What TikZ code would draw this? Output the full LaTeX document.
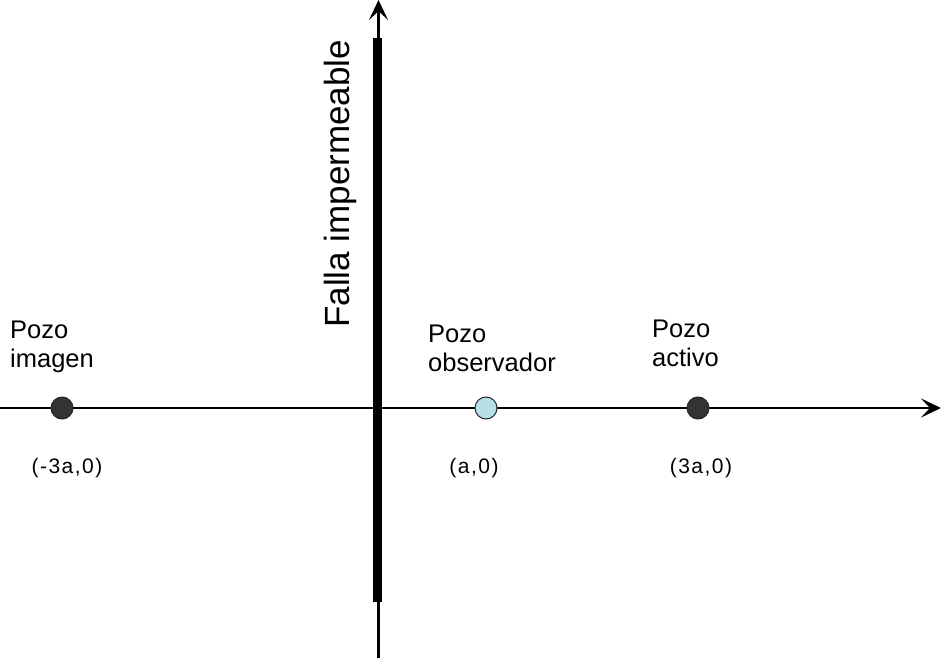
\documentclass[tikz,border=0pt]{standalone}
\usepackage{fontspec}
\setmainfont{Liberation Sans}
\usetikzlibrary{arrows.meta}
\begin{document}
\begin{tikzpicture}[x=1pt,y=-1pt,
  axisline/.style={line width=2.5pt,-{Stealth[length=20pt,width=19pt,inset=9pt]}},
  well/.style={circle,draw=black!85,line width=1pt,minimum size=22pt,inner sep=0pt},
  lbl/.style={font=\fontsize{25.5}{29}\selectfont,align=left,inner sep=0pt},
  coord/.style={font=\fontsize{21}{22}\selectfont\addfontfeatures{LetterSpace=7},inner sep=0pt}]
\useasboundingbox (0,0) rectangle (941,660);
% axes
\coordinate (xl) at (0,408);
\coordinate (xr) at (941,408);
\coordinate (yb) at (378.5,658);
\coordinate (yt) at (378.5,0);
\draw[axisline] (xl) -- (xr);
\draw[axisline] (yb) -- (yt);
% fault
\fill[black] (373,38) rectangle (382,602);
\node[rotate=90,anchor=base west,font=\fontsize{35}{36}\selectfont,inner sep=0pt] (falla) at (349,328) {Falla impermeable};
% wells
\node[well,fill=black!80] (imagen) at (62,408) {};
\node[well,fill={rgb,255:red,183;green,224;blue,230}] (obs) at (486,408) {};
\node[well,fill=black!80] (activo) at (698,408) {};
% labels
\node[lbl,anchor=base west] (limagen) at (10,367) {Pozo\\imagen};
\node[lbl,anchor=base west] (lobs) at (428,371) {Pozo\\observador};
\node[lbl,anchor=base west] (lactivo) at (652,366) {Pozo\\activo};
% coordinates
\node[coord] (cimagen) at (67,468) {(-3a,0)};
\node[coord] (cobs) at (474,468) {(a,0)};
\node[coord] (cactivo) at (701,468) {(3a,0)};
\end{tikzpicture}
\end{document}
